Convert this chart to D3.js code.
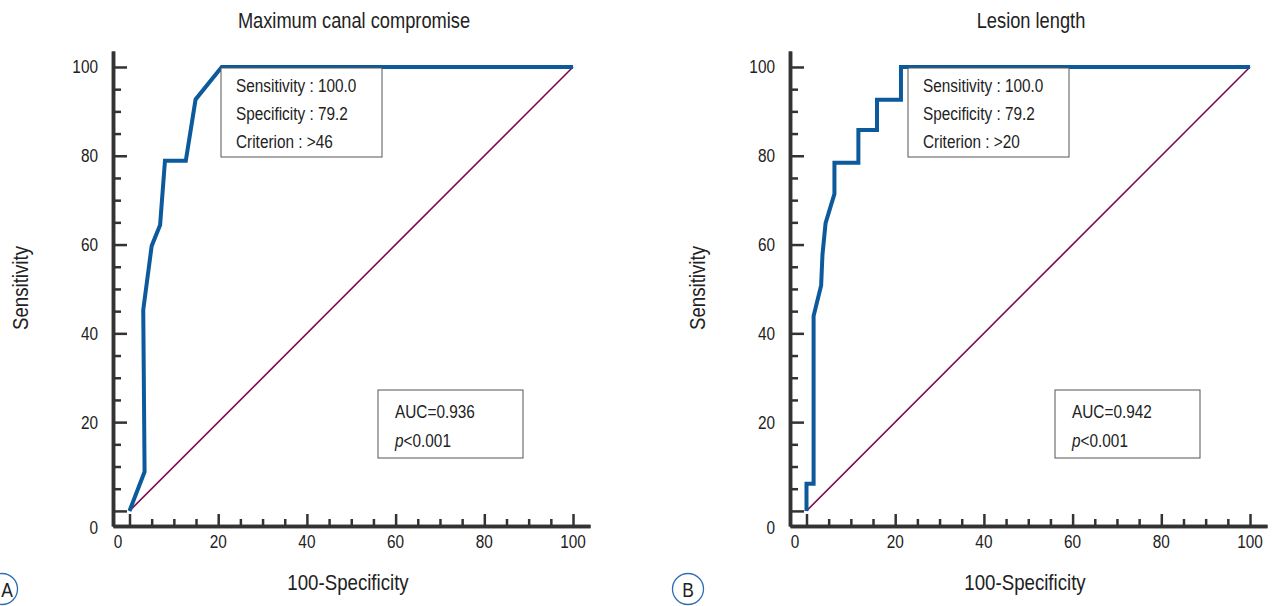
<!DOCTYPE html>
<html>
<head>
<meta charset="utf-8">
<script src="https://cdn.jsdelivr.net/npm/d3@7"></script>
<style>
  html, body { margin: 0; padding: 0; background: #fff; }
  svg { display: block; }
  text { font-family: "Liberation Sans", Arial, sans-serif; fill: #222; }
</style>
</head>
<body>
<svg id="chart" width="1277" height="606"></svg>
<script>
// ---------- data ----------
const panelTitles = ["Maximum canal compromise", "Lesion length"];
const panelLetters = ["A", "B"];

// Panel A ROC curve (100-Specificity, Sensitivity)
const rocA_fpr = [0, 3.4, 3.1, 5.0, 6.9, 8.0, 12.7, 14.9, 20.8, 100];
const rocA_tpr = [0, 8.8, 45.3, 59.7, 64.4, 78.9, 78.9, 92.7, 100, 100];

// Panel B ROC curve
const rocB_fpr = [0, 0, 1.6, 1.6, 3.3, 3.6, 4.3, 6.3, 6.3, 11.7, 11.7, 15.9, 15.9, 21.3, 21.3, 100];
const rocB_tpr = [0, 6.1, 6.1, 43.9, 50.8, 57.7, 64.8, 71.4, 78.4, 78.4, 85.8, 85.8, 92.6, 92.6, 100, 100];

// Reference (chance) line
const diag_x = [0, 100];
const diag_y = [0, 100];

const majorTicks = [0, 20, 40, 60, 80, 100];
const minorTicks = [5, 10, 15, 25, 30, 35, 45, 50, 55, 65, 70, 75, 85, 90, 95];

const infoA = ["Sensitivity : 100.0", "Specificity : 79.2", "Criterion : >46"];
const infoB = ["Sensitivity : 100.0", "Specificity : 79.2", "Criterion : >20"];
const aucA = "0.936";
const aucB = "0.942";

const xLabel = "100-Specificity";
const yLabel = "Sensitivity";

// ---------- drawing ----------
const svg = d3.select("#chart");
const curveColor = "#0c5a9c";
const diagColor = "#7a0c4c";
const axisColor = "#333";
const SX = 0.83; // horizontal condensation to mimic a narrow typeface

function addText(g, x, y, size, anchor, rot) {
  const t = g.append("text")
    .attr("transform", `translate(${x},${y})` + (rot ? ` rotate(${rot})` : "") + ` scale(${SX},1)`)
    .attr("x", 0).attr("y", 0)
    .attr("font-size", size)
    .attr("text-anchor", anchor || "start");
  return t;
}

function drawPanel(ox, title, letter, fpr, tpr, info, auc, infoX) {
  const g = svg.append("g");
  const x = d3.scaleLinear().domain([-3.72, 103.83]).range([ox + 113, ox + 590]);
  const y = d3.scaleLinear().domain([-3.4, 103.6]).range([526, 51]);

  // axes (ticks inward)
  const yMinor = d3.axisLeft(y).tickValues(minorTicks).tickSize(-8).tickSizeOuter(0).tickFormat("");
  const yMajor = d3.axisLeft(y).tickValues(majorTicks).tickSize(-14).tickSizeOuter(0).tickFormat("");
  const xMinor = d3.axisBottom(x).tickValues(minorTicks).tickSize(-7).tickSizeOuter(0).tickFormat("");
  const xMajor = d3.axisBottom(x).tickValues(majorTicks).tickSize(-12).tickSizeOuter(0).tickFormat("");

  [[yMinor, "y"], [yMajor, "y"], [xMinor, "x"], [xMajor, "x"]].forEach(([ax, k]) => {
    const a = g.append("g")
      .attr("transform", k === "y" ? `translate(${x(-3.72)},0)` : `translate(0,${y(-3.4)})`)
      .call(ax);
    a.selectAll("line").attr("stroke", axisColor).attr("stroke-width", 2.5);
    a.select(".domain").attr("stroke", axisColor).attr("stroke-width", 3.5);
  });

  // tick labels
  majorTicks.forEach(d => {
    addText(g, x(-3.72) - 15, (d === 0 ? y(-3.4) + 1 : y(d)) + 6.5, 18.5, "end").text(d);
    addText(g, d === 0 ? x(-3.72) + 5 : x(d), 548, 18.5, "middle").text(d);
  });

  // diagonal
  const line = d3.line().x(d => x(d[0])).y(d => y(d[1]));
  g.append("path")
    .datum(d3.zip(diag_x, diag_y))
    .attr("d", line)
    .attr("fill", "none")
    .attr("stroke", diagColor)
    .attr("stroke-width", 1.6);

  // ROC curve
  g.append("path")
    .datum(d3.zip(fpr, tpr))
    .attr("d", line)
    .attr("fill", "none")
    .attr("stroke", curveColor)
    .attr("stroke-width", 4)
    .attr("stroke-linejoin", "miter");

  // info box
  const bx = ox + infoX, by = 68;
  g.append("rect").attr("x", bx).attr("y", by).attr("width", 161).attr("height", 89)
    .attr("fill", "#fff").attr("stroke", "#555").attr("stroke-width", 1);
  info.forEach((t, i) => {
    addText(g, bx + 15, by + 24 + i * 28, 18.5).text(t);
  });

  // AUC box
  const ax0 = ox + 378, ay0 = 390;
  g.append("rect").attr("x", ax0).attr("y", ay0).attr("width", 145).attr("height", 68)
    .attr("fill", "#fff").attr("stroke", "#555").attr("stroke-width", 1);
  addText(g, ax0 + 17, ay0 + 28, 18.5).text("AUC=" + auc);
  const pt = addText(g, ax0 + 17, ay0 + 57, 18.5);
  pt.append("tspan").attr("font-style", "italic").text("p");
  pt.append("tspan").text("<0.001");

  // title
  addText(g, ox + 354, 28, 22, "middle").text(title);

  // axis labels
  addText(g, ox + 348, 590, 22.5, "middle").text(xLabel);
  addText(g, ox + 28, 288, 22.5, "middle", -90).text(yLabel);

  // panel letter
  const cx = letter === "A" ? 2 : 688;
  g.append("circle").attr("cx", cx).attr("cy", 589).attr("r", 15.5)
    .attr("fill", "none").attr("stroke", "#2f6db3").attr("stroke-width", 1.3);
  addText(g, letter === "A" ? 7 : cx, 596.5, 21, "middle").text(letter);
}

drawPanel(0, panelTitles[0], panelLetters[0], rocA_fpr, rocA_tpr, infoA, aucA, 221);
drawPanel(677, panelTitles[1], panelLetters[1], rocB_fpr, rocB_tpr, infoB, aucB, 231);
</script>
</body>
</html>
